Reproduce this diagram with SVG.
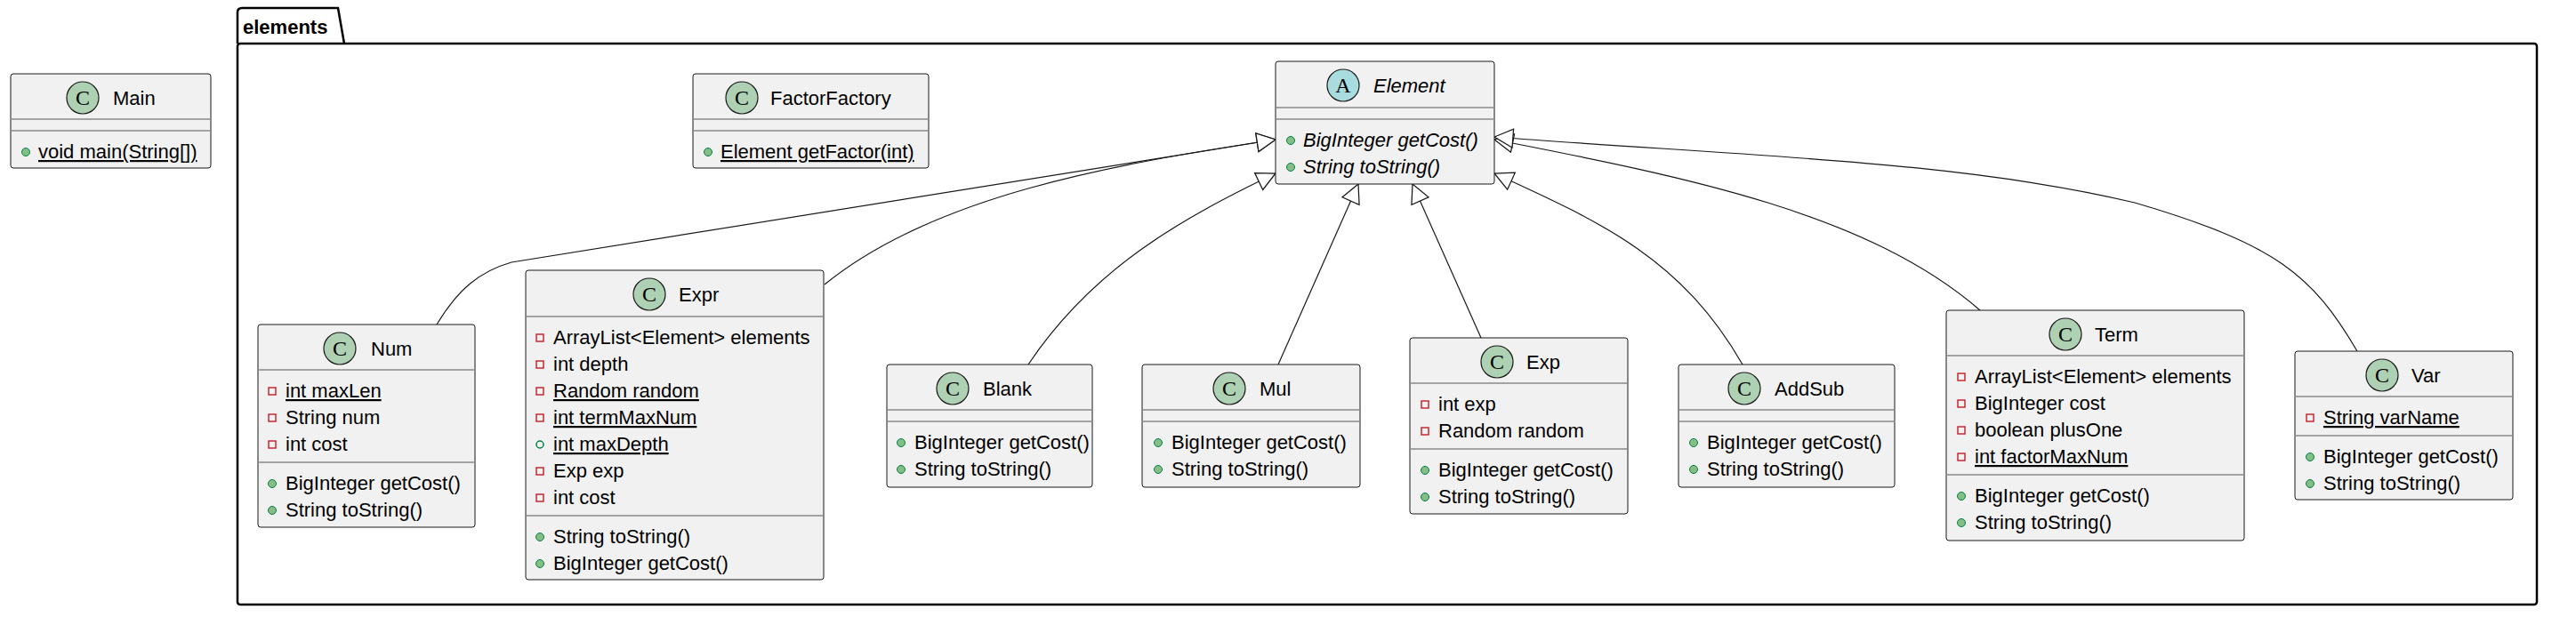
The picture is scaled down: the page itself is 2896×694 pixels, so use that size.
<svg xmlns="http://www.w3.org/2000/svg" width="2896" height="694" viewBox="0 0 2896 694">
<defs>
<style>
text{font-family:"Liberation Sans",Arial,sans-serif;font-size:22px;fill:#000}
.box{fill:#F1F1F1;stroke:#181818;stroke-width:1}
.sep{stroke:#888;stroke-width:1.5}
.ci{fill:#ADD1B2;stroke:#181818;stroke-width:1.2}
.ca{fill:#A9DCDF;stroke:#181818;stroke-width:1.2}
.ct{font-family:"Liberation Serif",serif;font-size:24px;text-anchor:middle}
.pub{fill:#84BE84;stroke:#038048;stroke-width:1}
.pubf{fill:none;stroke:#038048;stroke-width:1.5}
.priv{fill:none;stroke:#C82930;stroke-width:1.5}
.u{text-decoration:underline}
.i{font-style:italic}
.conn path{fill:none;stroke:#181818;stroke-width:1.2}
</style>
<marker id="ext" markerUnits="userSpaceOnUse" markerWidth="24" markerHeight="24" refX="20" refY="10" orient="auto" viewBox="-1 -1 23 23">
<path d="M0,0 L20,10 L0,20 Z" fill="#fff" stroke="#181818" stroke-width="1.2"/>
</marker>
</defs>
<rect width="2896" height="694" fill="#fff"/>

<g id="pkg-elements">
<path d="M267,49 L267,14 Q267,9 272,9 L380,9 L387,49" fill="none" stroke="#000" stroke-width="2.5"/>
<rect x="267" y="49" width="2585" height="631" rx="3" fill="none" stroke="#000" stroke-width="2.5"/>
<text x="273" y="38" font-weight="bold">elements</text>
</g>

<g class="conn" id="connectors">
<path d="M491,365 C515,325 540,305 575,295 L1434,157" marker-end="url(#ext)"/>
<path d="M927,320 C1050,220 1250,185 1434,157" marker-end="url(#ext)"/>
<path d="M1156,410 C1230,300 1330,245 1434,195" marker-end="url(#ext)"/>
<path d="M1437,410 L1527,207" marker-end="url(#ext)"/>
<path d="M1665,380 L1588,207" marker-end="url(#ext)"/>
<path d="M1959,410 C1890,290 1800,250 1680,195" marker-end="url(#ext)"/>
<path d="M2226,349 C2100,240 1900,200 1680,157" marker-end="url(#ext)"/>
<path d="M2650,395 C2600,310 2560,275 2400,228 C2200,180 1950,175 1680,154" marker-end="url(#ext)"/>
</g>

<g id="Main">
<rect class="box" x="12" y="83" width="225" height="106" rx="3"/>
<circle class="ci" cx="93" cy="110" r="18"/><text class="ct" x="93" y="118">C</text>
<text x="127" y="118">Main</text>
<line class="sep" x1="12" y1="134" x2="237" y2="134"/><line class="sep" x1="12" y1="147" x2="237" y2="147"/>
<circle class="pub" cx="29" cy="171" r="4.5"/><text class="u" x="43" y="178">void main(String[])</text>
</g>

<g id="FactorFactory">
<rect class="box" x="779" y="83" width="265" height="106" rx="3"/>
<circle class="ci" cx="834" cy="110" r="18"/><text class="ct" x="834" y="118">C</text>
<text x="866" y="118">FactorFactory</text>
<line class="sep" x1="779" y1="134" x2="1044" y2="134"/><line class="sep" x1="779" y1="147" x2="1044" y2="147"/>
<circle class="pub" cx="796" cy="171" r="4.5"/><text class="u" x="810" y="178">Element getFactor(int)</text>
</g>

<g id="Element">
<rect class="box" x="1434" y="69" width="246" height="138" rx="3"/>
<circle class="ca" cx="1510" cy="96" r="18"/><text class="ct" x="1510" y="104">A</text>
<text class="i" x="1544" y="104">Element</text>
<line class="sep" x1="1434" y1="121" x2="1680" y2="121"/><line class="sep" x1="1434" y1="134" x2="1680" y2="134"/>
<circle class="pub" cx="1451" cy="158" r="4.5"/><text class="i" x="1465" y="165">BigInteger getCost()</text>
<circle class="pub" cx="1451" cy="188" r="4.5"/><text class="i" x="1465" y="195">String toString()</text>
</g>

<g id="Num">
<rect class="box" x="290" y="365" width="244" height="228" rx="3"/>
<circle class="ci" cx="382" cy="392" r="18"/><text class="ct" x="382" y="400">C</text>
<text x="417" y="400">Num</text>
<line class="sep" x1="290" y1="416" x2="534" y2="416"/>
<rect class="priv" x="302" y="436" width="8" height="8"/><text class="u" x="321" y="447">int maxLen</text>
<rect class="priv" x="302" y="466" width="8" height="8"/><text x="321" y="477">String num</text>
<rect class="priv" x="302" y="496" width="8" height="8"/><text x="321" y="507">int cost</text>
<line class="sep" x1="290" y1="520" x2="534" y2="520"/>
<circle class="pub" cx="306" cy="544" r="4.5"/><text x="321" y="551">BigInteger getCost()</text>
<circle class="pub" cx="306" cy="574" r="4.5"/><text x="321" y="581">String toString()</text>
</g>

<g id="Expr">
<rect class="box" x="591" y="304" width="335" height="348" rx="3"/>
<circle class="ci" cx="730" cy="331" r="18"/><text class="ct" x="730" y="339">C</text>
<text x="763" y="339">Expr</text>
<line class="sep" x1="591" y1="356" x2="926" y2="356"/>
<rect class="priv" x="603" y="376" width="8" height="8"/><text x="622" y="387">ArrayList&lt;Element&gt; elements</text>
<rect class="priv" x="603" y="406" width="8" height="8"/><text x="622" y="417">int depth</text>
<rect class="priv" x="603" y="436" width="8" height="8"/><text class="u" x="622" y="447">Random random</text>
<rect class="priv" x="603" y="466" width="8" height="8"/><text class="u" x="622" y="477">int termMaxNum</text>
<circle class="pubf" cx="607" cy="500" r="4"/><text class="u" x="622" y="507">int maxDepth</text>
<rect class="priv" x="603" y="526" width="8" height="8"/><text x="622" y="537">Exp exp</text>
<rect class="priv" x="603" y="556" width="8" height="8"/><text x="622" y="567">int cost</text>
<line class="sep" x1="591" y1="580" x2="926" y2="580"/>
<circle class="pub" cx="607" cy="604" r="4.5"/><text x="622" y="611">String toString()</text>
<circle class="pub" cx="607" cy="634" r="4.5"/><text x="622" y="641">BigInteger getCost()</text>
</g>

<g id="Blank">
<rect class="box" x="997" y="410" width="231" height="138" rx="3"/>
<circle class="ci" cx="1071" cy="437" r="18"/><text class="ct" x="1071" y="445">C</text>
<text x="1105" y="445">Blank</text>
<line class="sep" x1="997" y1="461" x2="1228" y2="461"/><line class="sep" x1="997" y1="474" x2="1228" y2="474"/>
<circle class="pub" cx="1013" cy="498" r="4.5"/><text x="1028" y="505">BigInteger getCost()</text>
<circle class="pub" cx="1013" cy="528" r="4.5"/><text x="1028" y="535">String toString()</text>
</g>

<g id="Mul">
<rect class="box" x="1284" y="410" width="245" height="138" rx="3"/>
<circle class="ci" cx="1382" cy="437" r="18"/><text class="ct" x="1382" y="445">C</text>
<text x="1416" y="445">Mul</text>
<line class="sep" x1="1284" y1="461" x2="1529" y2="461"/><line class="sep" x1="1284" y1="474" x2="1529" y2="474"/>
<circle class="pub" cx="1302" cy="498" r="4.5"/><text x="1317" y="505">BigInteger getCost()</text>
<circle class="pub" cx="1302" cy="528" r="4.5"/><text x="1317" y="535">String toString()</text>
</g>

<g id="Exp">
<rect class="box" x="1585" y="380" width="245" height="198" rx="3"/>
<circle class="ci" cx="1683" cy="407" r="18"/><text class="ct" x="1683" y="415">C</text>
<text x="1716" y="415">Exp</text>
<line class="sep" x1="1585" y1="431" x2="1830" y2="431"/>
<rect class="priv" x="1598" y="451" width="8" height="8"/><text x="1617" y="462">int exp</text>
<rect class="priv" x="1598" y="481" width="8" height="8"/><text x="1617" y="492">Random random</text>
<line class="sep" x1="1585" y1="505" x2="1830" y2="505"/>
<circle class="pub" cx="1602" cy="529" r="4.5"/><text x="1617" y="536">BigInteger getCost()</text>
<circle class="pub" cx="1602" cy="559" r="4.5"/><text x="1617" y="566">String toString()</text>
</g>

<g id="AddSub">
<rect class="box" x="1887" y="410" width="243" height="138" rx="3"/>
<circle class="ci" cx="1961" cy="437" r="18"/><text class="ct" x="1961" y="445">C</text>
<text x="1995" y="445">AddSub</text>
<line class="sep" x1="1887" y1="461" x2="2130" y2="461"/><line class="sep" x1="1887" y1="474" x2="2130" y2="474"/>
<circle class="pub" cx="1904" cy="498" r="4.5"/><text x="1919" y="505">BigInteger getCost()</text>
<circle class="pub" cx="1904" cy="528" r="4.5"/><text x="1919" y="535">String toString()</text>
</g>

<g id="Term">
<rect class="box" x="2188" y="349" width="335" height="259" rx="3"/>
<circle class="ci" cx="2322" cy="376" r="18"/><text class="ct" x="2322" y="384">C</text>
<text x="2355" y="384">Term</text>
<line class="sep" x1="2188" y1="400" x2="2523" y2="400"/>
<rect class="priv" x="2201" y="420" width="8" height="8"/><text x="2220" y="431">ArrayList&lt;Element&gt; elements</text>
<rect class="priv" x="2201" y="450" width="8" height="8"/><text x="2220" y="461">BigInteger cost</text>
<rect class="priv" x="2201" y="480" width="8" height="8"/><text x="2220" y="491">boolean plusOne</text>
<rect class="priv" x="2201" y="510" width="8" height="8"/><text class="u" x="2220" y="521">int factorMaxNum</text>
<line class="sep" x1="2188" y1="534" x2="2523" y2="534"/>
<circle class="pub" cx="2205" cy="558" r="4.5"/><text x="2220" y="565">BigInteger getCost()</text>
<circle class="pub" cx="2205" cy="588" r="4.5"/><text x="2220" y="595">String toString()</text>
</g>

<g id="Var">
<rect class="box" x="2580" y="395" width="245" height="167" rx="3"/>
<circle class="ci" cx="2678" cy="422" r="18"/><text class="ct" x="2678" y="430">C</text>
<text x="2711" y="430">Var</text>
<line class="sep" x1="2580" y1="446" x2="2825" y2="446"/>
<rect class="priv" x="2593" y="466" width="8" height="8"/><text class="u" x="2612" y="477">String varName</text>
<line class="sep" x1="2580" y1="490" x2="2825" y2="490"/>
<circle class="pub" cx="2597" cy="514" r="4.5"/><text x="2612" y="521">BigInteger getCost()</text>
<circle class="pub" cx="2597" cy="544" r="4.5"/><text x="2612" y="551">String toString()</text>
</g>
</svg>
